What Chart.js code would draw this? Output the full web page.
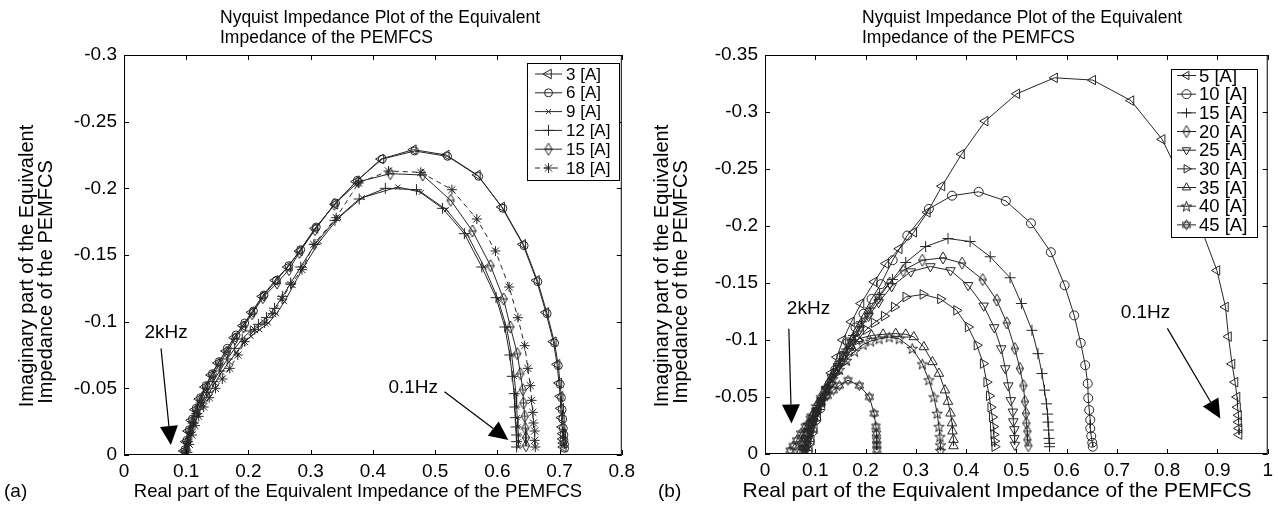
<!DOCTYPE html>
<html>
<head>
<meta charset="utf-8">
<script src="https://cdn.jsdelivr.net/npm/chart.js@4.4.1/dist/chart.umd.min.js"></script>
<style>
  html, body { margin: 0; padding: 0; background: #fff; }
  #wrap { position: relative; width: 1278px; height: 506px; overflow: hidden; }
  canvas { position: absolute; top: 0; }
  #chartA { left: 0; }
  #chartB { left: 640px; }
</style>
</head>
<body>
<div id="wrap">
  <canvas id="chartA" width="640" height="506"></canvas>
  <canvas id="chartB" width="638" height="506"></canvas>
</div>
<script>
// ---- panel (a): [real, imaginary] pairs, 2kHz -> 0.1Hz ----
const zA3 = [[0.096,-0.003],[0.099,-0.010],[0.103,-0.018],[0.108,-0.026],[0.114,-0.034],[0.121,-0.042],[0.130,-0.051],[0.140,-0.060],[0.151,-0.069],[0.164,-0.078],[0.177,-0.088],[0.191,-0.097],[0.205,-0.107],[0.222,-0.119],[0.243,-0.131],[0.263,-0.141],[0.282,-0.153],[0.307,-0.170],[0.339,-0.188],[0.373,-0.205],[0.413,-0.222],[0.465,-0.229],[0.518,-0.225],[0.568,-0.210],[0.607,-0.186],[0.641,-0.158],[0.663,-0.131],[0.678,-0.107],[0.690,-0.085],[0.696,-0.068],[0.699,-0.054],[0.701,-0.044],[0.702,-0.035],[0.703,-0.028],[0.704,-0.021],[0.705,-0.016],[0.705,-0.012],[0.706,-0.009],[0.706,-0.006]];
const zA6 = [[0.098,-0.004],[0.101,-0.011],[0.105,-0.019],[0.110,-0.027],[0.116,-0.035],[0.123,-0.043],[0.132,-0.052],[0.142,-0.061],[0.153,-0.070],[0.166,-0.080],[0.180,-0.090],[0.194,-0.099],[0.208,-0.108],[0.225,-0.120],[0.245,-0.131],[0.265,-0.142],[0.284,-0.154],[0.309,-0.171],[0.340,-0.189],[0.375,-0.206],[0.415,-0.222],[0.467,-0.228],[0.520,-0.224],[0.570,-0.209],[0.609,-0.185],[0.643,-0.157],[0.665,-0.130],[0.680,-0.106],[0.692,-0.084],[0.698,-0.067],[0.701,-0.053],[0.703,-0.043],[0.704,-0.034],[0.705,-0.027],[0.706,-0.020],[0.707,-0.015],[0.707,-0.011],[0.708,-0.008],[0.708,-0.005]];
const zA9 = [[0.101,-0.002],[0.104,-0.009],[0.108,-0.016],[0.113,-0.023],[0.119,-0.030],[0.127,-0.038],[0.136,-0.046],[0.146,-0.054],[0.157,-0.062],[0.169,-0.070],[0.181,-0.077],[0.192,-0.084],[0.204,-0.089],[0.218,-0.094],[0.232,-0.099],[0.245,-0.106],[0.258,-0.115],[0.272,-0.127],[0.290,-0.142],[0.314,-0.160],[0.345,-0.178],[0.383,-0.193],[0.440,-0.201],[0.478,-0.197],[0.518,-0.184],[0.552,-0.165],[0.579,-0.141],[0.601,-0.117],[0.615,-0.095],[0.623,-0.075],[0.627,-0.059],[0.630,-0.046],[0.631,-0.036],[0.632,-0.028],[0.633,-0.021],[0.634,-0.015],[0.634,-0.010],[0.634,-0.006]];
const zA12 = [[0.099,-0.003],[0.102,-0.010],[0.106,-0.017],[0.111,-0.024],[0.117,-0.031],[0.124,-0.039],[0.133,-0.047],[0.143,-0.055],[0.154,-0.063],[0.166,-0.072],[0.178,-0.080],[0.190,-0.087],[0.203,-0.093],[0.216,-0.098],[0.229,-0.103],[0.242,-0.110],[0.255,-0.119],[0.268,-0.129],[0.284,-0.141],[0.307,-0.158],[0.339,-0.176],[0.378,-0.192],[0.420,-0.200],[0.470,-0.199],[0.512,-0.185],[0.547,-0.166],[0.575,-0.141],[0.598,-0.118],[0.612,-0.096],[0.620,-0.075],[0.624,-0.059],[0.627,-0.046],[0.628,-0.036],[0.629,-0.028],[0.630,-0.021],[0.631,-0.015],[0.631,-0.010],[0.631,-0.006]];
const zA15 = [[0.098,-0.002],[0.101,-0.009],[0.105,-0.017],[0.110,-0.025],[0.116,-0.033],[0.123,-0.041],[0.132,-0.050],[0.142,-0.059],[0.153,-0.068],[0.165,-0.077],[0.178,-0.087],[0.192,-0.096],[0.206,-0.106],[0.223,-0.118],[0.246,-0.129],[0.265,-0.139],[0.282,-0.152],[0.307,-0.169],[0.338,-0.188],[0.377,-0.205],[0.428,-0.211],[0.480,-0.210],[0.525,-0.191],[0.560,-0.168],[0.589,-0.142],[0.610,-0.117],[0.621,-0.096],[0.632,-0.076],[0.637,-0.061],[0.641,-0.049],[0.642,-0.039],[0.644,-0.029],[0.645,-0.020],[0.646,-0.013],[0.646,-0.007]];
const zA18 = [[0.102,-0.002],[0.105,-0.008],[0.109,-0.015],[0.114,-0.022],[0.120,-0.029],[0.128,-0.036],[0.137,-0.043],[0.147,-0.050],[0.158,-0.057],[0.170,-0.065],[0.183,-0.075],[0.194,-0.085],[0.210,-0.094],[0.226,-0.099],[0.239,-0.106],[0.254,-0.117],[0.268,-0.128],[0.286,-0.139],[0.305,-0.158],[0.341,-0.178],[0.377,-0.204],[0.425,-0.213],[0.477,-0.212],[0.527,-0.199],[0.567,-0.177],[0.597,-0.153],[0.619,-0.126],[0.633,-0.103],[0.644,-0.082],[0.649,-0.065],[0.653,-0.052],[0.655,-0.041],[0.657,-0.032],[0.658,-0.024],[0.660,-0.018],[0.660,-0.011],[0.661,-0.006]];

// ---- panel (b) ----
const zB5 = [[0.088,-0.003],[0.092,-0.012],[0.098,-0.022],[0.105,-0.033],[0.113,-0.045],[0.122,-0.058],[0.132,-0.071],[0.143,-0.085],[0.155,-0.100],[0.172,-0.116],[0.191,-0.132],[0.2175,-0.151],[0.2405,-0.167],[0.267,-0.180],[0.296,-0.1945],[0.323,-0.212],[0.352,-0.235],[0.391,-0.263],[0.438,-0.292],[0.501,-0.316],[0.576,-0.330],[0.652,-0.328],[0.728,-0.310],[0.790,-0.276],[0.835,-0.235],[0.870,-0.195],[0.899,-0.161],[0.916,-0.129],[0.922,-0.103],[0.929,-0.079],[0.935,-0.063],[0.939,-0.050],[0.940,-0.041],[0.942,-0.034],[0.942,-0.028],[0.943,-0.0225],[0.943,-0.017]];
const zB10 = [[0.085,-0.003],[0.089,-0.011],[0.095,-0.020],[0.102,-0.030],[0.110,-0.040],[0.119,-0.051],[0.129,-0.062],[0.140,-0.074],[0.152,-0.086],[0.165,-0.098],[0.180,-0.111],[0.196,-0.123],[0.212,-0.136],[0.2305,-0.149],[0.254,-0.170],[0.283,-0.1916],[0.326,-0.215],[0.372,-0.2266],[0.425,-0.230],[0.479,-0.222],[0.529,-0.2024],[0.5686,-0.177],[0.596,-0.148],[0.615,-0.1216],[0.628,-0.0974],[0.637,-0.0779],[0.642,-0.0618],[0.643,-0.049],[0.645,-0.0386],[0.647,-0.030],[0.647,-0.0225],[0.649,-0.0157],[0.651,-0.0099],[0.652,-0.0064]];
const zB15 = [[0.082,-0.003],[0.086,-0.011],[0.092,-0.020],[0.099,-0.029],[0.107,-0.039],[0.116,-0.049],[0.126,-0.059],[0.137,-0.070],[0.149,-0.081],[0.162,-0.092],[0.176,-0.104],[0.192,-0.116],[0.209,-0.128],[0.228,-0.140],[0.2535,-0.153],[0.280,-0.168],[0.3195,-0.182],[0.364,-0.189],[0.408,-0.1864],[0.448,-0.173],[0.4875,-0.1546],[0.510,-0.132],[0.531,-0.1085],[0.543,-0.088],[0.551,-0.0706],[0.556,-0.056],[0.560,-0.044],[0.562,-0.035],[0.563,-0.028],[0.564,-0.021],[0.565,-0.0137],[0.566,-0.0093],[0.566,-0.0064]];
const zB20 = [[0.080,-0.003],[0.084,-0.011],[0.090,-0.020],[0.097,-0.029],[0.105,-0.038],[0.114,-0.048],[0.124,-0.058],[0.135,-0.068],[0.147,-0.078],[0.160,-0.089],[0.174,-0.100],[0.190,-0.112],[0.207,-0.124],[0.226,-0.137],[0.248,-0.150],[0.275,-0.161],[0.313,-0.170],[0.354,-0.172],[0.392,-0.1674],[0.433,-0.153],[0.461,-0.135],[0.481,-0.115],[0.497,-0.0925],[0.507,-0.075],[0.514,-0.060],[0.517,-0.046],[0.519,-0.0357],[0.520,-0.027],[0.522,-0.020],[0.522,-0.0126],[0.524,-0.0073]];
const zB25 = [[0.078,-0.003],[0.082,-0.011],[0.088,-0.020],[0.095,-0.029],[0.103,-0.038],[0.112,-0.047],[0.122,-0.057],[0.133,-0.067],[0.145,-0.077],[0.158,-0.087],[0.172,-0.098],[0.188,-0.109],[0.206,-0.121],[0.226,-0.133],[0.252,-0.147],[0.290,-0.160],[0.329,-0.1645],[0.369,-0.161],[0.404,-0.148],[0.435,-0.130],[0.456,-0.111],[0.470,-0.0925],[0.478,-0.075],[0.484,-0.060],[0.489,-0.047],[0.493,-0.037],[0.494,-0.0285],[0.496,-0.0215],[0.496,-0.0137],[0.497,-0.0079]];
const zB30 = [[0.075,-0.003],[0.079,-0.010],[0.085,-0.018],[0.092,-0.027],[0.100,-0.035],[0.109,-0.044],[0.119,-0.053],[0.130,-0.062],[0.142,-0.071],[0.155,-0.080],[0.169,-0.090],[0.185,-0.100],[0.201,-0.109],[0.217,-0.115],[0.237,-0.121],[0.257,-0.129],[0.280,-0.1377],[0.314,-0.140],[0.349,-0.136],[0.381,-0.126],[0.404,-0.1114],[0.4216,-0.0954],[0.434,-0.0793],[0.441,-0.063],[0.446,-0.051],[0.449,-0.041],[0.452,-0.0324],[0.454,-0.024],[0.455,-0.0171],[0.456,-0.0113],[0.457,-0.0064]];
const zB35 = [[0.072,-0.003],[0.076,-0.010],[0.082,-0.018],[0.089,-0.027],[0.097,-0.036],[0.106,-0.045],[0.116,-0.054],[0.127,-0.063],[0.139,-0.073],[0.155,-0.085],[0.170,-0.095],[0.185,-0.101],[0.212,-0.104],[0.235,-0.105],[0.260,-0.1056],[0.280,-0.105],[0.296,-0.1027],[0.316,-0.0939],[0.333,-0.0808],[0.346,-0.0706],[0.358,-0.056],[0.364,-0.046],[0.369,-0.0357],[0.372,-0.0271],[0.373,-0.020],[0.375,-0.0126],[0.375,-0.007]];
const zB40 = [[0.068,-0.003],[0.072,-0.010],[0.078,-0.018],[0.085,-0.026],[0.093,-0.034],[0.102,-0.042],[0.112,-0.050],[0.123,-0.058],[0.135,-0.066],[0.148,-0.074],[0.162,-0.082],[0.178,-0.090],[0.195,-0.096],[0.210,-0.099],[0.227,-0.101],[0.247,-0.1026],[0.267,-0.101],[0.293,-0.0925],[0.313,-0.079],[0.326,-0.065],[0.336,-0.050],[0.3425,-0.0356],[0.346,-0.024],[0.348,-0.0151],[0.349,-0.0079],[0.349,-0.003]];
const zB45 = [[0.050,-0.003],[0.056,-0.007],[0.063,-0.012],[0.071,-0.018],[0.080,-0.024],[0.090,-0.031],[0.101,-0.038],[0.112,-0.045],[0.124,-0.051],[0.136,-0.056],[0.148,-0.060],[0.165,-0.0647],[0.1877,-0.060],[0.2075,-0.050],[0.217,-0.0356],[0.2207,-0.024],[0.2215,-0.018],[0.222,-0.0122],[0.2223,-0.008],[0.2226,-0.0035]];

const labelsA = ['3 [A]', '6 [A]', '9 [A]', '12 [A]', '15 [A]', '18 [A]'];
const labelsB = ['5 [A]', '10 [A]', '15 [A]', '20 [A]', '25 [A]', '30 [A]', '35 [A]', '40 [A]', '45 [A]'];

const xTicksA = [0, 0.1, 0.2, 0.3, 0.4, 0.5, 0.6, 0.7, 0.8];
const yTicksA = [-0.3, -0.25, -0.2, -0.15, -0.1, -0.05, 0];
const xTicksB = [0, 0.1, 0.2, 0.3, 0.4, 0.5, 0.6, 0.7, 0.8, 0.9, 1];
const yTicksB = [-0.35, -0.3, -0.25, -0.2, -0.15, -0.1, -0.05, 0];

const FONT = '"Liberation Sans", Arial, Helvetica, sans-serif';
const INK = '#262626';

// small outline markers that Chart.js has no built-in style for
function markerCanvas(w, h, draw) {
  const c = document.createElement('canvas');
  c.width = w; c.height = h;
  const g = c.getContext('2d');
  g.strokeStyle = INK; g.lineWidth = 1;
  draw(g, w / 2, h / 2);
  return c;
}
const tallDiamond = markerCanvas(10, 14, (g, cx, cy) => {
  g.beginPath();
  g.moveTo(cx, 1); g.lineTo(cx + 3.6, cy); g.lineTo(cx, 13); g.lineTo(cx - 3.6, cy);
  g.closePath(); g.stroke();
  g.beginPath(); g.moveTo(1, cy); g.lineTo(9, cy); g.stroke();
});
const pentagram = markerCanvas(13, 13, (g, cx, cy) => {
  g.beginPath();
  for (let i = 0; i < 10; i++) {
    const r = i % 2 ? 2.2 : 5.5;
    const a = -Math.PI / 2 + i * Math.PI / 5;
    const x = cx + r * Math.cos(a), y = cy + 0.5 + r * Math.sin(a);
    i ? g.lineTo(x, y) : g.moveTo(x, y);
  }
  g.closePath(); g.stroke();
});
const hexagram = markerCanvas(13, 13, (g, cx, cy) => {
  [0, Math.PI].forEach(off => {
    g.beginPath();
    for (let i = 0; i < 3; i++) {
      const a = -Math.PI / 2 + off + i * 2 * Math.PI / 3;
      const x = cx + 5 * Math.cos(a), y = cy + 5 * Math.sin(a);
      i ? g.lineTo(x, y) : g.moveTo(x, y);
    }
    g.closePath(); g.stroke();
  });
});

const seriesA = [
  { data: zA3, pointStyle: 'triangle', rotation: -90, radius: 5.5 },
  { data: zA6, pointStyle: 'circle', rotation: 0, radius: 4 },
  { data: zA9, pointStyle: 'crossRot', rotation: 0, radius: 3.5 },
  { data: zA12, pointStyle: 'cross', rotation: 0, radius: 5.5 },
  { data: zA15, pointStyle: tallDiamond, rotation: 0, radius: 5 },
  { data: zA18, pointStyle: 'star', rotation: 0, radius: 5, dash: [5, 4] }
];
const seriesB = [
  { data: zB5, pointStyle: 'triangle', rotation: -90, radius: 5.5 },
  { data: zB10, pointStyle: 'circle', rotation: 0, radius: 4.5 },
  { data: zB15, pointStyle: 'cross', rotation: 0, radius: 5.5 },
  { data: zB20, pointStyle: tallDiamond, rotation: 0, radius: 5 },
  { data: zB25, pointStyle: 'triangle', rotation: 180, radius: 5.5 },
  { data: zB30, pointStyle: 'triangle', rotation: 90, radius: 5.5 },
  { data: zB35, pointStyle: 'triangle', rotation: 0, radius: 5.5 },
  { data: zB40, pointStyle: pentagram, rotation: 0, radius: 5 },
  { data: zB45, pointStyle: hexagram, rotation: 0, radius: 5 }
];

function toDatasets(series, labels) {
  return series.map((s, i) => ({
    label: labels[i],
    data: s.data.map(p => ({ x: p[0], y: p[1] })),
    showLine: true,
    borderColor: INK,
    borderWidth: 1,
    borderDash: s.dash || [],
    pointStyle: s.pointStyle,
    rotation: s.rotation,
    pointRadius: s.radius,
    pointBorderColor: INK,
    pointBorderWidth: 1,
    pointBackgroundColor: 'rgba(0,0,0,0)',
    tension: 0
  }));
}

function arrow(ctx, x0, y0, x1, y1, len, wid) {
  const a = Math.atan2(y1 - y0, x1 - x0);
  const bx = x1 - len * Math.cos(a), by = y1 - len * Math.sin(a);
  ctx.beginPath(); ctx.moveTo(x0, y0); ctx.lineTo(bx, by); ctx.stroke();
  ctx.beginPath();
  ctx.moveTo(x1, y1);
  ctx.lineTo(bx + wid / 2 * Math.sin(a), by - wid / 2 * Math.cos(a));
  ctx.lineTo(bx - wid / 2 * Math.sin(a), by + wid / 2 * Math.cos(a));
  ctx.closePath(); ctx.fill();
}

// frame, inward ticks, titles, notes and the boxed legend
const decorations = {
  id: 'decorations',
  afterDraw(chart, args, o) {
    const { ctx, chartArea: a, scales } = chart;
    const sx = scales.x, sy = scales.y;
    ctx.save();
    ctx.strokeStyle = '#000'; ctx.fillStyle = '#000'; ctx.lineWidth = 1;
    ctx.strokeRect(a.left + 0.5, a.top + 0.5, a.right - a.left - 1, a.bottom - a.top - 1);
    ctx.beginPath();
    sx.ticks.forEach(t => {
      const x = Math.round(sx.getPixelForValue(t.value)) + 0.5;
      ctx.moveTo(x, a.bottom); ctx.lineTo(x, a.bottom - 5);
      ctx.moveTo(x, a.top); ctx.lineTo(x, a.top + 5);
    });
    sy.ticks.forEach(t => {
      const y = Math.round(sy.getPixelForValue(t.value)) + 0.5;
      ctx.moveTo(a.left, y); ctx.lineTo(a.left + 5, y);
      ctx.moveTo(a.right, y); ctx.lineTo(a.right - 5, y);
    });
    ctx.stroke();

    // title, left-aligned two lines
    ctx.font = '17.5px ' + FONT;
    ctx.textAlign = 'left'; ctx.textBaseline = 'alphabetic';
    ctx.fillText('Nyquist Impedance Plot of the Equivalent', o.titleX, 23);
    ctx.fillText('Impedance of the PEMFCS', o.titleX, 43);

    // y axis title
    ctx.font = o.yFont + 'px ' + FONT;
    ctx.textAlign = 'center';
    [['Imaginary part of the Equivalent', o.yLine1], ['Impedance of the PEMFCS', o.yLine2]].forEach(([s, p]) => {
      ctx.save(); ctx.translate(p[0], p[1]); ctx.rotate(-Math.PI / 2);
      ctx.fillText(s, 0, 0); ctx.restore();
    });

    // x axis title and panel tag
    ctx.font = o.xFont + 'px ' + FONT;
    ctx.fillText('Real part of the Equivalent Impedance of the PEMFCS', o.xTitleX, 497);
    ctx.font = '19px ' + FONT;
    ctx.textAlign = 'left';
    ctx.fillText(o.tag, o.tagX, 497);

    // frequency notes with arrows
    ctx.lineWidth = 1.2;
    o.notes.forEach(n => {
      ctx.textBaseline = 'middle';
      ctx.fillText(n.text, sx.getPixelForValue(n.at[0]), sy.getPixelForValue(n.at[1]));
      arrow(ctx, sx.getPixelForValue(n.from[0]), sy.getPixelForValue(n.from[1]),
        sx.getPixelForValue(n.to[0]), sy.getPixelForValue(n.to[1]), 19, 18);
    });

    // legend box
    const L = o.legend;
    ctx.fillStyle = '#fff';
    ctx.fillRect(L.x, L.y, L.w, L.h);
    ctx.strokeStyle = '#000'; ctx.lineWidth = 1;
    ctx.strokeRect(L.x + 0.5, L.y + 0.5, L.w, L.h);
    ctx.font = L.font + 'px ' + FONT;
    ctx.fillStyle = '#000';
    ctx.textBaseline = 'middle'; ctx.textAlign = 'left';
    chart.data.datasets.forEach((ds, i) => {
      const y = L.row0 + i * L.step;
      ctx.save();
      ctx.strokeStyle = INK; ctx.lineWidth = 1;
      ctx.setLineDash(ds.borderDash);
      ctx.beginPath(); ctx.moveTo(L.line[0], y); ctx.lineTo(L.line[1], y); ctx.stroke();
      ctx.setLineDash([]);
      ctx.fillStyle = 'rgba(0,0,0,0)';
      Chart.helpers.drawPoint(ctx, {
        pointStyle: ds.pointStyle, rotation: ds.rotation,
        radius: Math.min(ds.pointRadius, L.maxR), borderWidth: 1
      }, (L.line[0] + L.line[1]) / 2, y);
      ctx.restore();
      ctx.fillText(ds.label, L.textX, y + 1);
    });
    ctx.restore();
  }
};

function makeChart(id, datasets, xTicks, yTicks, pad, xH, deco) {
  const tickFont = { family: FONT, size: 19 };
  return new Chart(document.getElementById(id), {
    type: 'scatter',
    data: { datasets },
    options: {
      responsive: false,
      animation: false,
      events: [],
      layout: { padding: pad },
      plugins: { legend: { display: false }, tooltip: { enabled: false }, decorations: deco },
      scales: {
        x: {
          type: 'linear', min: xTicks[0], max: xTicks[xTicks.length - 1],
          afterBuildTicks: s => { s.ticks = xTicks.map(v => ({ value: v })); },
          afterFit: s => { s.height = xH; },
          grid: { display: false, drawTicks: false },
          border: { display: false },
          ticks: { font: tickFont, color: '#000', padding: 5, maxRotation: 0, callback: v => String(v) }
        },
        y: {
          type: 'linear', min: yTicks[0], max: yTicks[yTicks.length - 1], reverse: true,
          afterBuildTicks: s => { s.ticks = yTicks.map(v => ({ value: v })); },
          afterFit: s => { s.width = 74; },
          grid: { display: false, drawTicks: false },
          border: { display: false },
          ticks: { font: tickFont, color: '#000', padding: 7, callback: v => String(v) }
        }
      }
    },
    plugins: [decorations]
  });
}

makeChart('chartA', toDatasets(seriesA, labelsA), xTicksA, yTicksA,
  { left: 50, right: 10, top: 55, bottom: 0 }, 51, {
    titleX: 220, yFont: 20, yLine1: [33, 266], yLine2: [52, 282],
    xFont: 18.5, xTitleX: 358, tag: '(a)', tagX: 4,
    notes: [
      { text: '2kHz', at: [0.033, -0.092], from: [0.0595, -0.080], to: [0.0753, -0.0075] },
      { text: '0.1Hz', at: [0.425, -0.0506], from: [0.515, -0.0475], to: [0.6177, -0.0112] }
    ],
    legend: { x: 527, y: 63, w: 92, h: 117, row0: 74, step: 18.8, line: [535, 562], textX: 566, font: 17, maxR: 5.5 }
  });

makeChart('chartB', toDatasets(seriesB, labelsB), xTicksB, yTicksB,
  { left: 51, right: 7, top: 55, bottom: 0 }, 52, {
    titleX: 222, yFont: 20, yLine1: [28, 266], yLine2: [47, 282],
    xFont: 21, xTitleX: 357, tag: '(b)', tagX: 18,
    notes: [
      { text: '2kHz', at: [0.0435, -0.1273], from: [0.0474, -0.1099], to: [0.0527, -0.0268] },
      { text: '0.1Hz', at: [0.7075, -0.1238], from: [0.8004, -0.1102], to: [0.9057, -0.0312] }
    ],
    legend: { x: 531, y: 69, w: 86, h: 168, row0: 75.5, step: 18.67, line: [537, 556], textX: 559, font: 18.5, maxR: 4.8 }
  });
</script>
</body>
</html>
